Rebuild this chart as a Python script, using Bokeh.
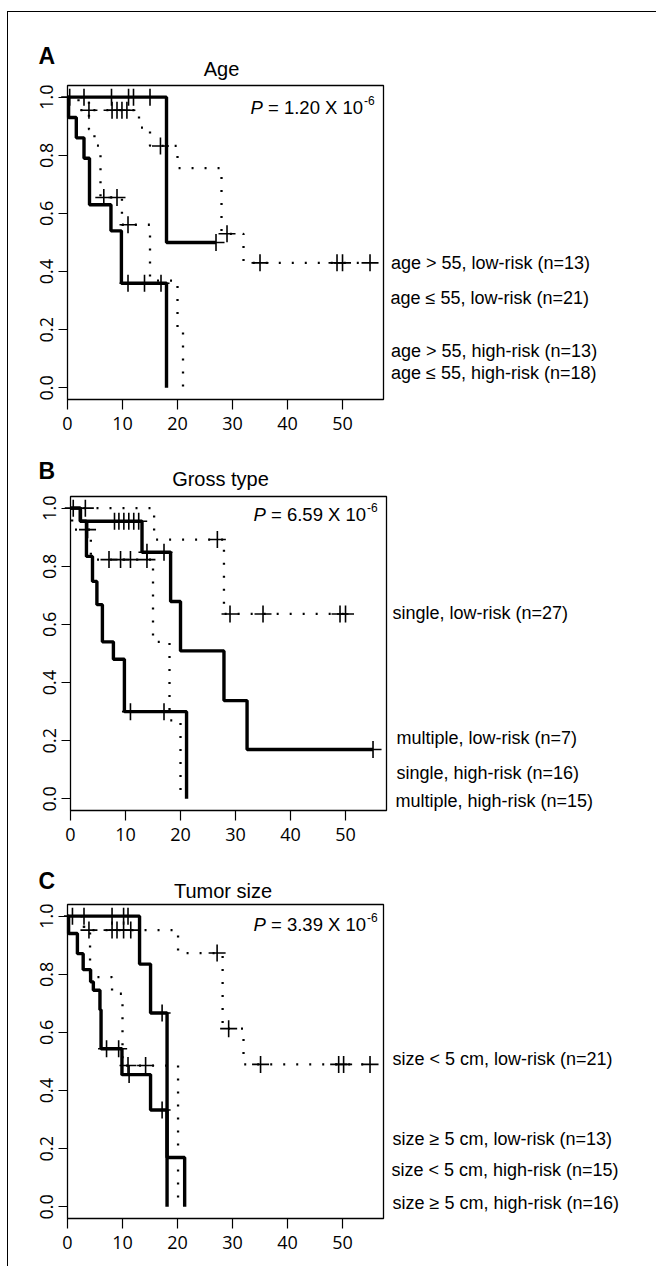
from bokeh.plotting import figure
from bokeh.layouts import column
from bokeh.models import Range1d, FixedTicker, Label, PrintfTickFormatter
from bokeh.embed import file_html
from bokeh.resources import INLINE

# ---------------- data ----------------
X_TICKS = [0, 10, 20, 30, 40, 50]
Y_TICKS = [0.0, 0.2, 0.4, 0.6, 0.8, 1.0]

# Panel A: Age
A_TITLE = "Age"
A_PVAL = "1.20"
A_LABELS = ["age > 55, low-risk (n=13)", "age \u2264 55, low-risk (n=21)",
            "age > 55, high-risk (n=13)", "age \u2264 55, high-risk (n=18)"]
A1_TIMES = [18]
A1_SURV = [0.5]
A1_END = 27
A1_CENS = [0.4, 3, 8, 11.1, 12, 15, 27]
A2_TIMES = [0.2, 1.6, 3.0, 4.0, 7.9, 9.8, 18]
A2_SURV = [0.93, 0.86, 0.79, 0.63, 0.54, 0.36, 0.0]
A2_END = 18
A2_CENS = [11, 14, 17]
A3_TIMES = [2, 13, 15, 20, 28, 32]
A3_SURV = [0.955, 0.895, 0.832, 0.756, 0.53, 0.43]
A3_END = 55
A3_CENS = [3.9, 8.1, 9, 9.9, 10.8, 16.9, 29, 35, 49, 50, 55]
A4_TIMES = [3.9, 4.9, 6, 9.9, 15, 20, 21]
A4_SURV = [0.889, 0.833, 0.655, 0.561, 0.369, 0.197, 0.0]
A4_END = 21
A4_CENS = [6.6, 9, 11]

# Panel B: Gross type
B_TITLE = "Gross type"
B_PVAL = "6.59"
B_LABELS = ["single, low-risk (n=27)", "multiple, low-risk (n=7)",
            "single, high-risk (n=16)", "multiple, high-risk (n=15)"]
B1_TIMES = [1.8, 13, 18.2, 20, 27.9, 32.1]
B1_SURV = [0.955, 0.848, 0.679, 0.509, 0.338, 0.17]
B1_END = 55
B1_CENS = [8, 8.8, 9.7, 10.6, 11.5, 12.4, 13.9, 17, 55]
B2_TIMES = [15.2, 27.9]
B2_SURV = [0.892, 0.636]
B2_END = 50
B2_CENS = [0.5, 2.7, 26.7, 29, 35, 49, 50]
B3_TIMES = [0.3, 3.7, 15, 18, 20]
B3_SURV = [0.926, 0.823, 0.54, 0.27, 0.0]
B3_END = 20
B3_CENS = [3.1, 7, 9.1, 10.9, 13.9]
B4_TIMES = [1.8, 2.9, 4, 4.8, 5.8, 7.8, 9.8, 21.1]
B4_SURV = [0.955, 0.834, 0.748, 0.668, 0.54, 0.48, 0.30, 0.0]
B4_END = 21.1
B4_CENS = [10.9, 17]

# Panel C: Tumor size
C_TITLE = "Tumor size"
C_PVAL = "3.39"
C_LABELS = ["size < 5 cm, low-risk (n=21)", "size \u2265 5 cm, low-risk (n=13)",
            "size < 5 cm, high-risk (n=15)", "size \u2265 5 cm, high-risk (n=16)"]
C1_TIMES = [13.1, 15.1, 18.1, 21.3]
C1_SURV = [0.835, 0.667, 0.17, 0.0]
C1_END = 21.3
C1_CENS = [0.9, 3, 8.1, 10.2, 11, 17.2]
C2_TIMES = [0.2, 1.8, 2.85, 4.2, 4.7, 5.9, 6.1, 9.9, 15.1, 18.1]
C2_SURV = [0.94, 0.871, 0.816, 0.774, 0.745, 0.678, 0.544, 0.455, 0.333, 0.0]
C2_END = 18.1
C2_CENS = [7.1, 9.3, 11.2, 17.2]
C3_TIMES = [3, 20.1, 28.2, 32]
C3_SURV = [0.952, 0.873, 0.613, 0.49]
C3_END = 55
C3_CENS = [3.9, 8.1, 9, 10.2, 11.5, 27.2, 29.3, 35.1, 49.3, 50.2, 55]
C4_TIMES = [3, 4.1, 8.1, 10, 20.1]
C4_SURV = [0.945, 0.79, 0.733, 0.486, 0.0]
C4_END = 20.1
C4_CENS = [11, 14.2]

# ---------------- layout constants (page pixels) ----------------
MARGIN_TOP, MARGIN_LEFT = 11, 7
OX, OY = MARGIN_LEFT + 1, MARGIN_TOP + 1
FIG_W = 648
BOX_W, BOX_H = 316, 314
X_MAX = 57.45
Y_MIN, Y_MAX = -0.04, 1.04
XS = BOX_W / X_MAX            # px per time unit
YS = BOX_H / (Y_MAX - Y_MIN)  # px per survival unit
TXT_FONT = "Liberation Sans"
TICK_FONT = "Open Sans"


def step_xy(times, surv, end):
    xs = [0.0] + list(times)
    ys = [1.0] + list(surv)
    if end > times[-1]:
        xs.append(end)
        ys.append(surv[-1])
    return xs, ys


def surv_at(times, surv, t):
    s = 1.0
    for ti, si in zip(times, surv):
        if ti <= t:
            s = si
    return s


def make_panel(letter, title, pval, labels, curves, box_left, box_top,
               fig_top, fig_bottom, pos):
    def dx(px):
        return (px - box_left) / XS

    def dy(py):
        return Y_MAX - (py - box_top) / YS

    p = figure(width=FIG_W, height=fig_bottom - fig_top, title=None,
               x_range=Range1d(dx(OX), dx(OX + FIG_W)),
               y_range=Range1d(dy(fig_bottom), dy(fig_top)),
               output_backend="svg", toolbar_location=None,
               min_border=0)
    p.xgrid.visible = False
    p.ygrid.visible = False
    p.outline_line_color = None
    p.background_fill_color = "white"
    p.border_fill_color = "white"

    for ax in (p.xaxis[0], p.yaxis[0]):
        ax.axis_line_color = None
        ax.minor_tick_line_color = None
        ax.major_tick_in = 0
        ax.major_tick_line_color = "black"
        ax.major_tick_line_width = 1.2
        ax.major_label_text_font = TICK_FONT
        ax.major_label_text_font_size = "18px"
        ax.major_label_text_color = "black"
    p.xaxis[0].fixed_location = Y_MIN
    p.xaxis[0].ticker = FixedTicker(ticks=X_TICKS)
    p.xaxis[0].major_tick_out = 10
    p.xaxis[0].major_label_standoff = 7
    p.yaxis[0].fixed_location = 0
    p.yaxis[0].ticker = FixedTicker(ticks=Y_TICKS)
    p.yaxis[0].formatter = PrintfTickFormatter(format="%.1f")
    p.yaxis[0].major_tick_out = 9
    p.yaxis[0].major_label_orientation = "vertical"
    p.yaxis[0].major_label_standoff = 5

    # plot box
    p.quad(left=[0], right=[X_MAX], bottom=[Y_MIN], top=[Y_MAX],
           fill_color=None, line_color="black", line_width=1.3)

    for times, surv, end, cens, dotted in curves:
        xs, ys = step_xy(times, surv, end)
        if dotted:
            p.step(xs, ys, mode="after", line_color="black", line_width=2.3,
                   line_dash="2 11")
        else:
            p.step(xs, ys, mode="after", line_color="black", line_width=3.4)
        cy = [surv_at(times, surv, t) for t in cens]
        p.scatter(cens, cy, marker="cross", size=17, line_color="black",
                  line_width=1.6)

    # panel letter
    p.add_layout(Label(x=dx(pos["letter"][0]), y=dy(pos["letter"][1] - 7), text=letter,
                       text_font=TXT_FONT, text_font_size="23px",
                       text_font_style="bold", text_baseline="alphabetic",
                       text_align="left", text_color="black"))
    # title
    p.add_layout(Label(x=dx(pos["title"][0]), y=dy(pos["title"][1] - 6), text=title,
                       text_font=TXT_FONT, text_font_size="20px",
                       text_baseline="alphabetic", text_align="center",
                       text_color="black"))
    # P value
    px_, py_ = pos["p"]
    py_ -= 4
    p.add_layout(Label(x=dx(px_), y=dy(py_), text="P", text_font=TXT_FONT,
                       text_font_size="18.5px", text_font_style="italic",
                       text_baseline="alphabetic", text_align="left",
                       text_color="black"))
    p.add_layout(Label(x=dx(px_), y=dy(py_), x_offset=17.5,
                       text="= %s X 10" % pval, text_font=TXT_FONT,
                       text_font_size="18.5px", text_baseline="alphabetic",
                       text_align="left", text_color="black"))
    p.add_layout(Label(x=dx(px_), y=dy(py_ - 7), x_offset=113.5,
                       text="-6", text_font=TXT_FONT, text_font_size="12px",
                       text_baseline="alphabetic", text_align="left",
                       text_color="black"))
    # right-hand labels
    for lab, (lx, ly) in zip(labels, pos["labels"]):
        p.add_layout(Label(x=dx(lx), y=dy(ly - 5), text=lab, text_font=TXT_FONT,
                           text_font_size="18px", text_baseline="alphabetic",
                           text_align="left", text_color="black"))
    return p


pA = make_panel(
    "A", A_TITLE, A_PVAL, A_LABELS,
    [(A1_TIMES, A1_SURV, A1_END, A1_CENS, False),
     (A2_TIMES, A2_SURV, A2_END, A2_CENS, False),
     (A3_TIMES, A3_SURV, A3_END, A3_CENS, True),
     (A4_TIMES, A4_SURV, A4_END, A4_CENS, True)],
    box_left=67, box_top=85, fig_top=OY, fig_bottom=447,
    pos={"letter": (38, 62), "title": (221, 74), "p": (250, 111),
         "labels": [(390.5, 267), (390, 302), (390.5, 355), (390.5, 377.5)]})

pB = make_panel(
    "B", B_TITLE, B_PVAL, B_LABELS,
    [(B1_TIMES, B1_SURV, B1_END, B1_CENS, False),
     (B2_TIMES, B2_SURV, B2_END, B2_CENS, True),
     (B3_TIMES, B3_SURV, B3_END, B3_CENS, True),
     (B4_TIMES, B4_SURV, B4_END, B4_CENS, False)],
    box_left=70, box_top=496, fig_top=447, fig_bottom=857,
    pos={"letter": (38, 477), "title": (220, 484), "p": (253, 518),
         "labels": [(392, 617), (396, 742), (396, 777), (395, 805)]})

pC = make_panel(
    "C", C_TITLE, C_PVAL, C_LABELS,
    [(C1_TIMES, C1_SURV, C1_END, C1_CENS, False),
     (C2_TIMES, C2_SURV, C2_END, C2_CENS, False),
     (C3_TIMES, C3_SURV, C3_END, C3_CENS, True),
     (C4_TIMES, C4_SURV, C4_END, C4_CENS, True)],
    box_left=67, box_top=904, fig_top=857, fig_bottom=1266,
    pos={"letter": (38, 887), "title": (222.5, 896), "p": (253, 928),
         "labels": [(392, 1063), (392, 1143), (391, 1174), (392, 1207)]})

layout = column(pA, pB, pC, margin=(MARGIN_TOP, 0, 0, MARGIN_LEFT),
                styles={"border-top": "1px solid black",
                        "border-left": "1px solid black"})

open("out.html", "w").write(file_html(layout, INLINE))
